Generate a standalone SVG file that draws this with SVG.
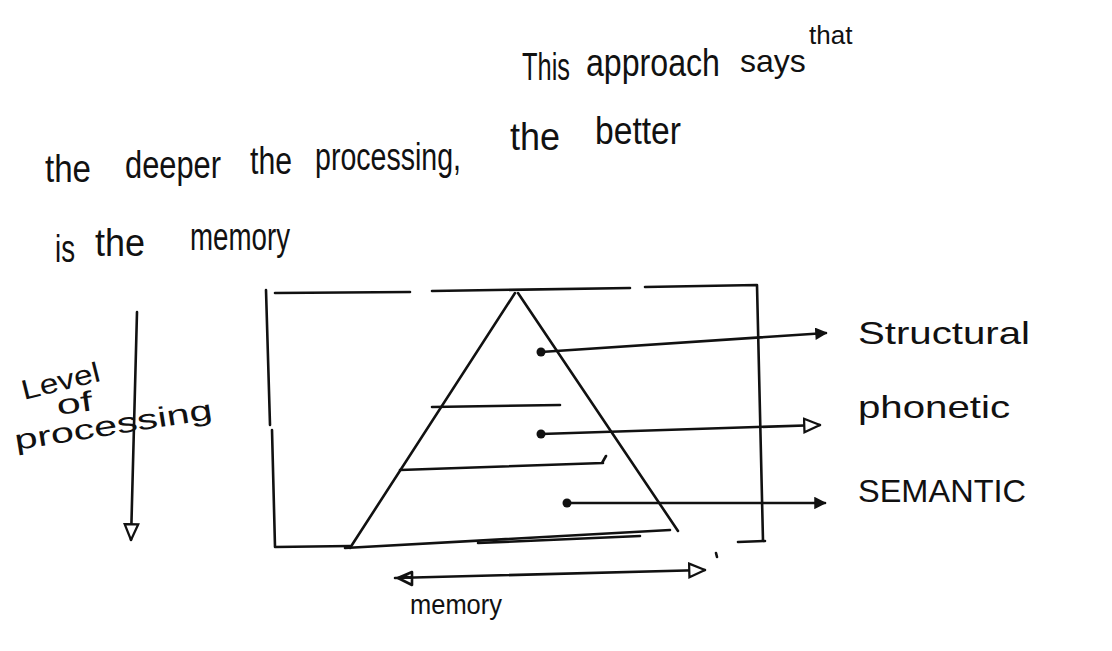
<svg xmlns="http://www.w3.org/2000/svg" width="1112" height="651" viewBox="0 0 1112 651">
<style>
.ink{fill:none;stroke:#111;stroke-width:2.6;stroke-linecap:round;stroke-linejoin:round}
.t{font-family:"Liberation Sans",Arial,sans-serif;fill:#111}
.big{font-size:38px}
.lbl{font-size:32px}
.sm{font-size:28px}
</style>
<defs>
<marker id="fill" viewBox="0 0 12 12" refX="11" refY="6" markerWidth="12" markerHeight="12" markerUnits="userSpaceOnUse" orient="auto">
<path d="M1,1 L11,6 L1,11 Z" fill="#111" stroke="#111" stroke-width="1.5"/>
</marker>
<marker id="open" viewBox="0 0 16 16" refX="15" refY="8" markerWidth="18" markerHeight="18" markerUnits="userSpaceOnUse" orient="auto">
<path d="M1,2 L15,8 L1,14 Z" fill="#fff" stroke="#111" stroke-width="2"/>
</marker>
<marker id="dot" viewBox="0 0 10 10" refX="5" refY="5" markerWidth="10" markerHeight="10" markerUnits="userSpaceOnUse">
<circle cx="5" cy="5" r="4.5" fill="#111"/>
</marker>
</defs>
<rect width="1112" height="651" fill="#fff"/>
<g id="heading">
<text class="t big" x="522" y="80" textLength="48" lengthAdjust="spacingAndGlyphs">This</text>
<text class="t big" x="586" y="76" textLength="134" lengthAdjust="spacingAndGlyphs">approach</text>
<text class="t" font-size="32" x="740" y="72">says</text>
<text class="t" font-size="26" x="809" y="44">that</text>
<text class="t big" x="45" y="182" textLength="46" lengthAdjust="spacingAndGlyphs">the</text>
<text class="t big" x="125" y="178" textLength="96" lengthAdjust="spacingAndGlyphs">deeper</text>
<text class="t big" x="250" y="174" textLength="42" lengthAdjust="spacingAndGlyphs">the</text>
<text class="t big" x="315" y="170" textLength="146" lengthAdjust="spacingAndGlyphs">processing,</text>
<text class="t big" x="510" y="150" textLength="50" lengthAdjust="spacingAndGlyphs">the</text>
<text class="t big" x="595" y="144" textLength="86" lengthAdjust="spacingAndGlyphs">better</text>
<text class="t big" x="55" y="262" textLength="20" lengthAdjust="spacingAndGlyphs">is</text>
<text class="t big" x="95" y="256" textLength="50" lengthAdjust="spacingAndGlyphs">the</text>
<text class="t big" x="190" y="250" textLength="100" lengthAdjust="spacingAndGlyphs">memory</text>
</g>
<g id="box">
<path class="ink" d="M275,293 L410,292 M432,291 L630,288 M645,287 L757,285 L763,541 M738,542 L765,541"/>
<path class="ink" d="M266,290 L270,425 M272,430 L275,547 L350,546"/>
</g>
<g id="pyramid">
<path class="ink" d="M350,548 L515,293 M518,293 L678,531"/>
<path class="ink" d="M345,548 L670,530"/>
<path class="ink" d="M432,407 L560,405 M400,470 L603,463 M602,463 L606,456 M478,543 L640,536"/>
</g>
<g id="labels">
<text class="t lbl" x="858" y="344" textLength="172" lengthAdjust="spacingAndGlyphs">Structural</text>
<text class="t lbl" x="858" y="418" textLength="152" lengthAdjust="spacingAndGlyphs">phonetic</text>
<text class="t lbl" x="858" y="502" textLength="168" lengthAdjust="spacingAndGlyphs">SEMANTIC</text>
<text class="t sm" x="24" y="400" textLength="80" lengthAdjust="spacingAndGlyphs" transform="rotate(-14 24 400)">Level</text>
<text class="t sm" x="58" y="415" textLength="36" lengthAdjust="spacingAndGlyphs" transform="rotate(-8 58 415)">of</text>
<text class="t sm" x="16" y="450" textLength="200" lengthAdjust="spacingAndGlyphs" transform="rotate(-9 16 450)">processing</text>
<text class="t sm" x="410" y="614" textLength="92" lengthAdjust="spacingAndGlyphs">memory</text>
</g>
<g id="connectors">
<path class="ink" d="M541,352 L826,333" marker-start="url(#dot)" marker-end="url(#fill)"/>
<path class="ink" d="M541,434 L820,425" marker-start="url(#dot)" marker-end="url(#open)"/>
<path class="ink" d="M567,503 L825,503" marker-start="url(#dot)" marker-end="url(#fill)"/>
<path class="ink" d="M137,312 L131,540" marker-end="url(#open)"/>
<path class="ink" d="M395,578 L705,570" marker-end="url(#open)"/>
<path class="ink" d="M412,572 L398,578 L412,585 Z M404,576 L412,578"/>
<path class="ink" d="M716,553 L717,557"/>
</g>
</svg>
